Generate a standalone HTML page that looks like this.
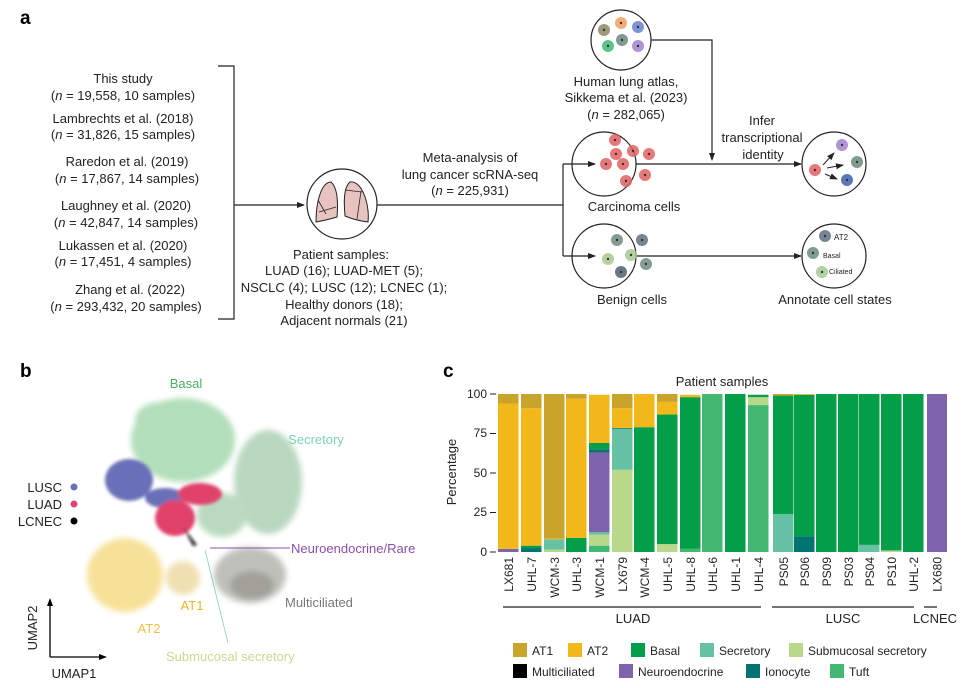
<!DOCTYPE html>
<html><head><meta charset="utf-8">
<style>
html,body{margin:0;padding:0;background:#fff;}
svg{display:block;font-family:"Liberation Sans",sans-serif;}
.t{font-size:13px;fill:#222;text-anchor:middle;}
.s{font-size:11px;fill:#222;}
</style></head><body>
<svg id="sv" width="968" height="688" viewBox="0 0 968 688" xmlns="http://www.w3.org/2000/svg">
<defs>
<marker id="ar" markerWidth="8" markerHeight="8" refX="7" refY="4" orient="auto" markerUnits="userSpaceOnUse"><path d="M0,1 L8,4 L0,7 z" fill="#222"/></marker>
<filter id="bl" x="-30%" y="-30%" width="160%" height="160%"><feGaussianBlur stdDeviation="3"/></filter>
<filter id="bl2" x="-30%" y="-30%" width="160%" height="160%"><feGaussianBlur stdDeviation="1.5"/></filter>
</defs>
<!-- panel a -->
<text x="20" y="24" font-size="19" font-weight="bold" fill="#000">a</text>
<g class="t">
<text x="123" y="83">This study</text><text x="123" y="100">(<tspan font-style="italic">n</tspan> = 19,558, 10 samples)</text>
<text x="123" y="123">Lambrechts et al. (2018)</text><text x="123" y="139">(<tspan font-style="italic">n</tspan> = 31,826, 15 samples)</text>
<text x="127" y="166">Raredon et al. (2019)</text><text x="127" y="183">(<tspan font-style="italic">n</tspan> = 17,867, 14 samples)</text>
<text x="126" y="210">Laughney et al. (2020)</text><text x="126" y="227">(<tspan font-style="italic">n</tspan> = 42,847, 14 samples)</text>
<text x="123" y="250">Lukassen et al. (2020)</text><text x="123" y="266">(<tspan font-style="italic">n</tspan> = 17,451, 4 samples)</text>
<text x="130" y="294">Zhang et al. (2022)</text><text x="126" y="311">(<tspan font-style="italic">n</tspan> = 293,432, 20 samples)</text>
<text x="341" y="259">Patient samples:</text><text x="344" y="275">LUAD (16); LUAD-MET (5);</text>
<text x="344" y="292">NSCLC (4); LUSC (12); LCNEC (1);</text><text x="344" y="309">Healthy donors (18);</text><text x="344" y="325">Adjacent normals (21)</text>
<text x="470" y="162">Meta-analysis of</text><text x="470" y="179">lung cancer scRNA-seq</text><text x="470" y="195">(<tspan font-style="italic">n</tspan> = 225,931)</text>
<text x="626" y="86">Human lung atlas,</text><text x="626" y="102">Sikkema et al. (2023)</text><text x="626" y="119">(<tspan font-style="italic">n</tspan> = 282,065)</text>
<text x="762" y="125">Infer</text><text x="762" y="142">transcriptional</text><text x="763" y="159">identity</text>
<text x="634" y="211">Carcinoma cells</text><text x="632" y="304">Benign cells</text><text x="835" y="304">Annotate cell states</text>
</g>
<g fill="none" stroke="#222" stroke-width="1.2">
<path d="M218,66 H234 V319 H218"/>
<path d="M234,205 H304" marker-end="url(#ar)"/>
<circle cx="342" cy="204" r="35"/>
<path d="M377,205 H563"/>
<path d="M563,164 V256"/>
<path d="M563,164 H595" marker-end="url(#ar)"/>
<path d="M563,256 H595" marker-end="url(#ar)"/>
<circle cx="604" cy="164" r="32"/><circle cx="604" cy="256" r="32"/>
<circle cx="621" cy="40" r="30"/>
<path d="M651,40 H712 V160" marker-end="url(#ar)"/>
<path d="M636,164 H801" marker-end="url(#ar)"/>
<path d="M636,256 H801" marker-end="url(#ar)"/>
<circle cx="834" cy="164" r="32"/><circle cx="834" cy="256" r="32"/>
</g>
<!-- lungs -->
<path d="M331,182 C322,182 316,200 316,222 C322,221 330,219 337,217 C338,205 338,188 331,182 Z" fill="#e8c4c0" stroke="#222" stroke-width="1"/>
<path d="M350,182 C362,180 370,205 368,222 C360,221 352,219 345,216 C344,204 343,188 350,182 Z" fill="#e8c4c0" stroke="#222" stroke-width="1"/>
<path d="M318,200 L326,214 M319,212 L336,207 M345,190 L362,192 M361,191 L357,219" stroke="#222" stroke-width="0.8" fill="none"/>
<!-- cells -->
<g id="cells"></g>
<g class="s" font-size="8">
<text x="834" y="240" font-size="8">AT2</text><text x="823" y="258" font-size="7">Basal</text><text x="829" y="274" font-size="7">Ciliated</text>
</g>
<!-- panel b -->
<text x="20" y="377" font-size="19" font-weight="bold" fill="#000">b</text>
<g filter="url(#bl)" opacity="0.8">
<ellipse cx="183" cy="440" rx="52" ry="42" fill="#9fd6a8"/>
<ellipse cx="160" cy="420" rx="25" ry="18" fill="#9fd6a8"/>
<ellipse cx="268" cy="482" rx="34" ry="52" fill="#a8ceb0"/>
<ellipse cx="250" cy="575" rx="36" ry="28" fill="#b0b0aa"/>
<ellipse cx="252" cy="585" rx="22" ry="14" fill="#8a8a82"/>
<ellipse cx="125" cy="575" rx="38" ry="37" fill="#f5da80"/>
<ellipse cx="183" cy="578" rx="17" ry="17" fill="#ecd8a0"/>
<ellipse cx="222" cy="515" rx="25" ry="22" fill="#a9d2b0"/>
</g>
<g filter="url(#bl2)">
<ellipse cx="129" cy="480" rx="24" ry="21" fill="#6a70b8"/>
<ellipse cx="165" cy="498" rx="20" ry="10" fill="#6a70b8"/>
<ellipse cx="200" cy="494" rx="22" ry="11" fill="#e0436c"/>
<ellipse cx="175" cy="518" rx="20" ry="18" fill="#e0436c"/>
<path d="M183,527 L197,545 L193,546 Z" fill="#111"/>
</g>
<g font-size="13">
<text x="186" y="388" fill="#4caf62" text-anchor="middle">Basal</text>
<text x="316" y="444" fill="#7fd1b5" text-anchor="middle">Secretory</text>
<text x="62" y="492" fill="#222" text-anchor="end">LUSC</text><circle cx="74" cy="487" r="3.5" fill="#6a70b8"/>
<text x="62" y="509" fill="#222" text-anchor="end">LUAD</text><circle cx="74" cy="504" r="3.5" fill="#e0436c"/>
<text x="62" y="526" fill="#222" text-anchor="end">LCNEC</text><circle cx="74" cy="521" r="3.5" fill="#000"/>
<text x="291" y="553" fill="#8b4fa8">Neuroendocrine/Rare</text>
<text x="285" y="607" fill="#777">Multiciliated</text>
<text x="192" y="610" fill="#e8b830" text-anchor="middle">AT1</text>
<text x="149" y="633" fill="#f0c040" text-anchor="middle">AT2</text>
<text x="166" y="661" fill="#c5dc8f">Submucosal secretory</text>
<text x="74" y="678" fill="#222" text-anchor="middle">UMAP1</text>
<text transform="translate(37,628) rotate(-90)" fill="#222" text-anchor="middle">UMAP2</text>
</g>
<path d="M210,548 H290" stroke="#8b4fa8" stroke-width="1"/>
<path d="M205,550 L228,643" stroke="#7fd1b5" stroke-width="0.8"/>
<path d="M50,657 V603 M50,657 H102" stroke="#000" stroke-width="1.3" fill="none"/>
<path d="M47,606 L50,598 L53,606 Z M99,654 L107,657 L99,660 Z" fill="#000"/>
<!-- panel c -->
<text x="443" y="377" font-size="19" font-weight="bold" fill="#000">c</text>
<text x="722" y="386" font-size="13" fill="#222" text-anchor="middle">Patient samples</text>
<text transform="translate(456,472) rotate(-90)" font-size="13" fill="#222" text-anchor="middle">Percentage</text>
<g font-size="12" fill="#222" text-anchor="end">
<text x="487" y="398">100</text><text x="487" y="437">75</text><text x="487" y="477">50</text><text x="487" y="516">25</text><text x="487" y="556">0</text>
</g>
<path d="M490,394 H496 M490,433.5 H496 M490,473 H496 M490,512.5 H496 M490,552 H496" stroke="#222" stroke-width="1"/>
<g id="bars"></g>
<g id="lbls" font-size="12" fill="#222"></g>
<path d="M503,607 H761 M772,607 H914 M924,607 H937" stroke="#222" stroke-width="1.2"/>
<g font-size="13" fill="#222" text-anchor="middle">
<text x="633" y="623">LUAD</text><text x="843" y="623">LUSC</text><text x="935" y="623">LCNEC</text>
</g>
<g id="leg" font-size="12" fill="#222"></g>
<script>
var C={a1:"#c9a42a",a2:"#f2b81a",b:"#039e48",se:"#66c2a5",su:"#b8d98a",n:"#7f63ab",i:"#007470",t:"#43b873",m:"#000"};
var X=[498,521,544,566,589,612,634,657,680,702,725,748,773,794,816,838,859,881,903,927];
var N=["LX681","UHL-7","WCM-3","UHL-3","WCM-1","LX679","WCM-4","UHL-5","UHL-8","UHL-6","UHL-1","UHL-4","PS05","PS06","PS09","PS03","PS04","PS10","UHL-2","LX680"];
var D=[[["n",2],["a2",92],["a1",6]],[["i",2.5],["b",1.5],["a2",87],["a1",9]],[["su",1.5],["se",6.5],["a2",0.5],["a1",91.5]],[["b",9],["a2",88],["a1",3]],
[["t",4],["su",7],["se",1.5],["n",50.5],["i",2],["b",4],["a2",30.5]],[["su",52],["se",26],["i",0.5],["a2",12.5],["a1",9]],[["b",79],["a2",21]],[["su",5],["b",82],["a2",8],["a1",5]],
[["t",2],["b",96],["a2",1.5]],[["t",100]],[["b",100]],[["t",93],["su",5],["b",1.5]],[["se",24],["b",75],["a1",1]],[["i",10],["b",89.5],["a2",0.5]],[["b",100]],[["b",100]],[["se",4.5],["b",95.5]],[["su",1],["b",99]],[["b",100]],[["n",100]]];
var ns="http://www.w3.org/2000/svg",g=document.getElementById("bars"),L=document.getElementById("lbls");
function el(t,a,p){var e=document.createElementNS(ns,t);for(var k in a)e.setAttribute(k,a[k]);p.appendChild(e);return e;}
D.forEach(function(d,j){var y=552,w=(j==19?20:20.5);d.forEach(function(s){var h=s[1]*1.58;el("rect",{x:X[j],y:y-h,width:w,height:h,fill:C[s[0]]},g);y-=h;});
var t=el("text",{transform:"translate("+(X[j]+w/2+4.5)+",557) rotate(-90)","text-anchor":"end"},L);t.textContent=N[j];});
var lg=document.getElementById("leg");
[[513,"a1","AT1",643],[568,"a2","AT2",643],[631,"b","Basal",643],[700,"se","Secretory",643],[789,"su","Submucosal secretory",643],
[513,"m","Multiciliated",664],[619,"n","Neuroendocrine",664],[746,"i","Ionocyte",664],[830,"t","Tuft",664]].forEach(function(l){
el("rect",{x:l[0],y:l[3],width:14,height:14,fill:C[l[1]]},lg);var t=el("text",{x:l[0]+19,y:l[3]+12},lg);t.textContent=l[2];});
var cg=document.getElementById("cells");
function cell(x,y,c){el("circle",{cx:x,cy:y,r:6,fill:c,opacity:0.85},cg);el("circle",{cx:x,cy:y,r:1.2,fill:"#333"},cg);}
[[604,30,"#8a8a60"],[621,23,"#f0a060"],[638,27,"#6a80d0"],[622,40,"#6a8a80"],[608,46,"#40b878"],[638,46,"#a080d0"]].forEach(function(c){cell(c[0],c[1],c[2]);});
[[618,142],[636,153],[619,156],[652,156],[609,166],[626,166],[648,177],[629,183]].forEach(function(c){cell(c[0]-3,c[1]-2,"#e06060");});
[[620,241],[645,241],[611,260],[634,256],[624,273],[649,265]].forEach(function(c,i){cell(c[0]-3,c[1]-1,["#708a80","#607080","#a8c890","#a8c890","#506070","#708a80"][i]);});
cell(815,170,"#e06060");cell(842,145,"#a080d0");cell(857,162,"#6a8a80");cell(847,180,"#4060b0");
cell(825,236,"#607080");cell(813,253,"#6a8a80");cell(822,272,"#a8c890");
[[823,165,834,153],[827,168,843,165],[825,174,837,179]].forEach(function(a){el("path",{d:"M"+a[0]+","+a[1]+" L"+a[2]+","+a[3],stroke:"#222","stroke-width":1,"marker-end":"url(#ar)"},cg);});
</script>
</svg>
</body></html>
